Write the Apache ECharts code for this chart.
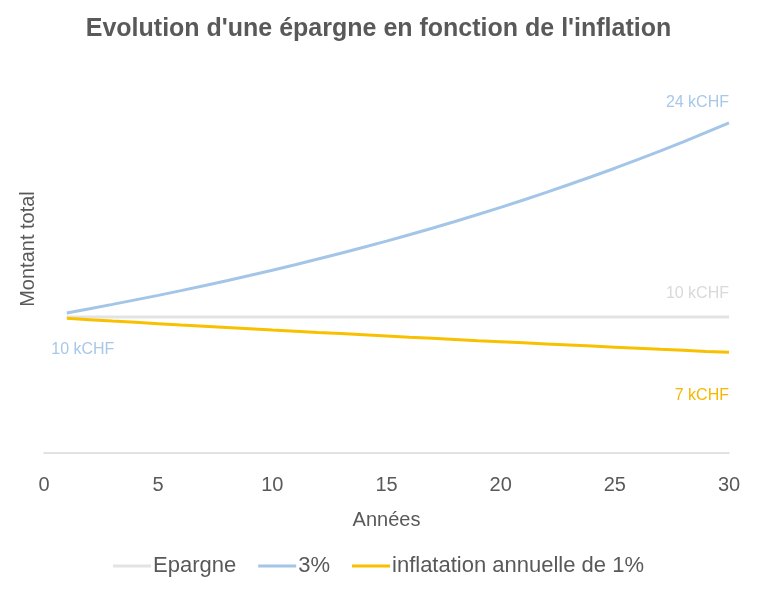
<!DOCTYPE html>
<html>
<head>
<meta charset="utf-8">
<script src="https://cdn.jsdelivr.net/npm/echarts@6/dist/echarts.min.js"></script>
<style>html,body{margin:0;padding:0;background:#fff}#c{width:757px;height:609px}</style>
</head>
<body>
<div id="c"></div>
<script>
var years = [1,2,3,4,5,6,7,8,9,10,11,12,13,14,15,16,17,18,19,20,21,22,23,24,25,26,27,28,29,30];
var epargne = [10,10,10,10,10,10,10,10,10,10,10,10,10,10,10,10,10,10,10,10,10,10,10,10,10,10,10,10,10,10];
var taux3 = [10.30,10.61,10.93,11.26,11.59,11.94,12.30,12.67,13.05,13.44,13.84,14.26,14.69,15.13,15.58,16.05,16.53,17.02,17.54,18.06,18.60,19.16,19.74,20.33,20.94,21.57,22.21,22.88,23.57,24.27];
var inflation = [9.90,9.80,9.70,9.61,9.51,9.41,9.32,9.23,9.14,9.04,8.95,8.86,8.78,8.69,8.60,8.51,8.43,8.35,8.26,8.18,8.10,8.02,7.94,7.86,7.78,7.70,7.62,7.55,7.47,7.40];
var seriesNames = ['Epargne','3%','inflatation annuelle de 1%'];
var xTicks = [0,5,10,15,20,25,30];

var FONT = '"Liberation Sans Narrow", "Liberation Sans", sans-serif';

function build(vals, labels){
  return vals.map(function(v,i){
    var item = {value:[years[i], v]};
    if (labels[i]) item.label = labels[i];
    return item;
  });
}
function lab(text, color, align, ox, oy){
  return {show:true, formatter:text, position:'inside', align:align, verticalAlign:'middle',
    offset:[ox, oy], color:color, fontSize:16, fontFamily:FONT};
}
var lEp = {}; lEp[29] = lab('10 kCHF', '#d9d9d9', 'right', 0, -23);
var l3 = {}; l3[0] = lab('10 kCHF', '#a7c8e8', 'center', 16, 37); l3[29] = lab('24 kCHF', '#a7c8e8', 'right', 0, -20);
var lIn = {}; lIn[29] = lab('7 kCHF', '#f5b800', 'right', 0, 43);

var chart = echarts.init(document.getElementById('c'));
chart.setOption({
  animation:false,
  backgroundColor:'#fff',
  title:{text:"Evolution d'une épargne en fonction de l'inflation", left:'center', top:12,
    textStyle:{fontFamily:FONT, fontWeight:'bold', fontSize:25, color:'#595959'}},
  grid:{left:44, right:28, top:45, bottom:156, containLabel:false},
  legend:{bottom:27, left:'center', itemWidth:38, itemHeight:3, itemGap:22, icon:'rect',
    textStyle:{fontFamily:FONT, fontSize:22, color:'#595959', padding:[0,0,0,-3]},
    data:seriesNames},
  xAxis:{type:'value', min:0, max:30, interval:5,
    name:'Années', nameLocation:'middle', nameGap:57,
    nameTextStyle:{fontFamily:FONT, fontSize:20, color:'#595959'},
    axisLine:{show:true, lineStyle:{color:'#d9d9d9', width:1.5}},
    axisTick:{show:false}, splitLine:{show:false},
    axisLabel:{margin:22, fontFamily:FONT, fontSize:20, color:'#595959'}},
  yAxis:{type:'value', min:0, max:30,
    name:'Montant total', nameLocation:'middle', nameGap:6,
    nameTextStyle:{fontFamily:FONT, fontSize:20, color:'#595959'},
    axisLine:{show:false}, axisTick:{show:false}, axisLabel:{show:false}, splitLine:{show:false}},
  series:[
    {name:seriesNames[0], type:'line', data:build(epargne, lEp), showSymbol:true, symbol:'circle', symbolSize:0,
      lineStyle:{color:'#e3e3e3', width:3}, itemStyle:{color:'#e3e3e3'}, label:{show:false}},
    {name:seriesNames[1], type:'line', data:build(taux3, l3), showSymbol:true, symbol:'circle', symbolSize:0,
      lineStyle:{color:'#a3c6e8', width:3}, itemStyle:{color:'#a3c6e8'}, label:{show:false}},
    {name:seriesNames[2], type:'line', data:build(inflation, lIn), showSymbol:true, symbol:'circle', symbolSize:0,
      lineStyle:{color:'#f9c000', width:3}, itemStyle:{color:'#f9c000'}, label:{show:false}}
  ]
});
</script>
</body>
</html>
